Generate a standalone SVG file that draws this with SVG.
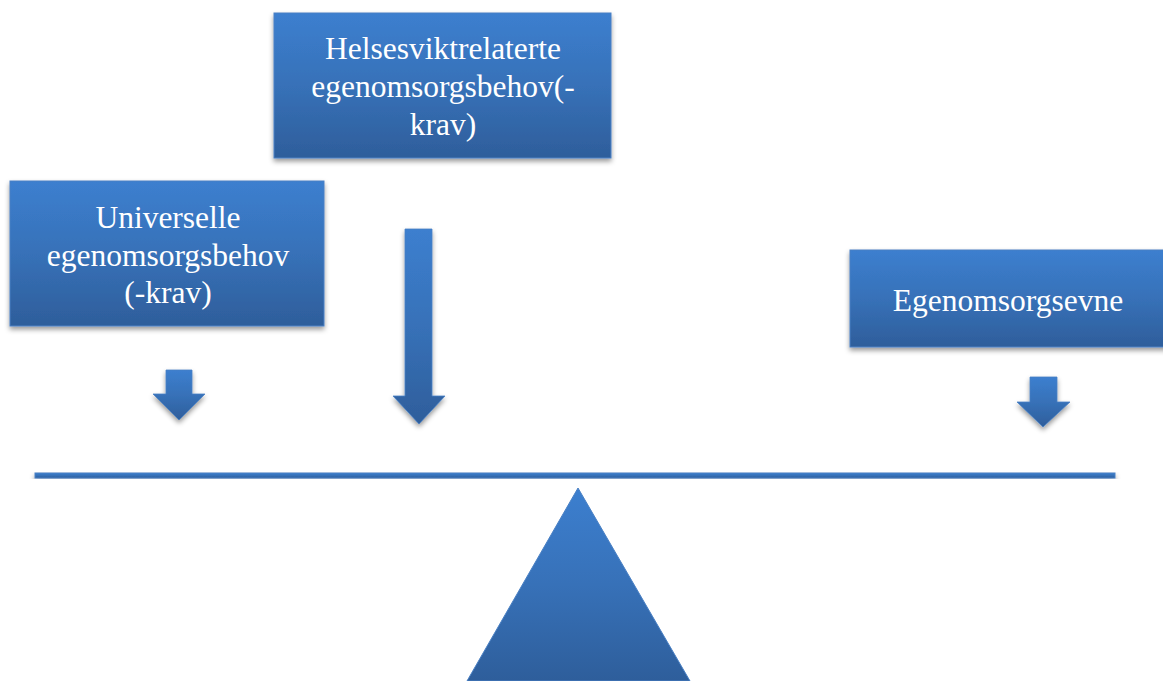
<svg xmlns="http://www.w3.org/2000/svg" width="1163" height="681" viewBox="0 0 1163 681">
<defs>
<linearGradient id="g" x1="0" y1="0" x2="0" y2="1">
<stop offset="0" stop-color="#3c7fcf"/>
<stop offset="0.5" stop-color="#3771b8"/>
<stop offset="1" stop-color="#2e5e9b"/>
</linearGradient>
<filter id="sh" x="-10%" y="-10%" width="120%" height="130%">
<feDropShadow dx="0" dy="3" stdDeviation="2.5" flood-color="#000" flood-opacity="0.4"/>
</filter>
<style>
.box{fill:url(#g);stroke:#4a80c4;stroke-width:1;filter:url(#sh)}
.arr{fill:url(#g);stroke:#4a80c4;stroke-width:0.8;filter:url(#sh)}
.t{font-family:"Liberation Serif","Times New Roman",serif;font-size:31.5px;fill:#fff;text-anchor:middle}
</style>
</defs>
<g id="node-helsesvikt">
<rect class="box" x="274" y="13" width="337" height="145"/>
<text class="t" x="443" y="59">Helsesviktrelaterte</text>
<text class="t" x="443" y="97">egenomsorgsbehov(-</text>
<text class="t" x="443" y="135">krav)</text>
</g>
<g id="node-universelle">
<rect class="box" x="10" y="181" width="314" height="145"/>
<text class="t" x="168" y="228">Universelle</text>
<text class="t" x="168" y="266">egenomsorgsbehov</text>
<text class="t" x="168" y="303">(-krav)</text>
</g>
<g id="node-egenomsorgsevne">
<rect class="box" x="850" y="250" width="320" height="97"/>
<text class="t" x="1008" y="311">Egenomsorgsevne</text>
</g>
<g id="connectors">
<path class="arr" d="M166,370 H192 V394 H205 L179,420 L153,394 H166 Z"/>
<path class="arr" d="M405,229 H432 V396 H445 L419,424 L393,396 H405 Z"/>
<path class="arr" d="M1030,377 H1057 V402 H1070 L1043,427 L1017,402 H1030 Z"/>
</g>
<g id="node-beam">
<rect class="box" x="35" y="473" width="1080" height="5" stroke="none"/>
</g>
<g id="node-fulcrum">
<polygon class="box" points="578,488 690,681 467,681" style="filter:none"/>
</g>
</svg>
